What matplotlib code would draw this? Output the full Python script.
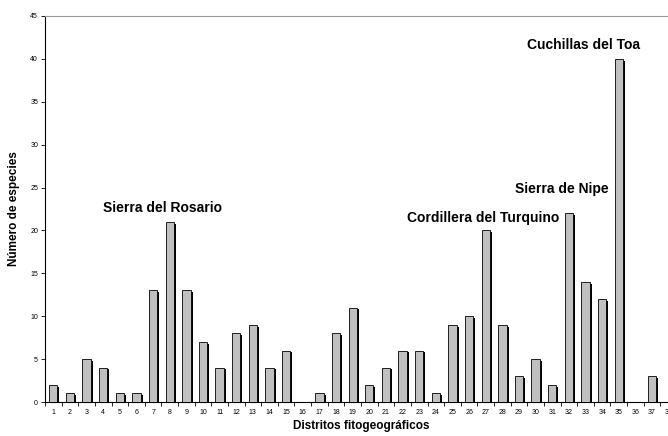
import numpy as np
import matplotlib
matplotlib.use("Agg")
import matplotlib.pyplot as plt

plt.rcParams['font.family'] = ['Liberation Sans', 'DejaVu Sans']

distritos = list(range(1, 39))
especies = [2, 1, 5, 4, 1, 1, 13, 21, 13, 7, 4, 8, 9, 4, 6, 0, 1, 8, 11, 2,
            4, 6, 6, 1, 9, 10, 20, 9, 3, 5, 2, 22, 14, 12, 40, 0, 3, 0]
etiquetas = ["Sierra del Rosario", "Cordillera del Turquino", "Sierra de Nipe", "Cuchillas del Toa"]
etiqueta_x = [7.55, 26.85, 31.6, 32.85]
etiqueta_y = [22.6, 21.4, 24.8, 41.6]

fig = plt.figure(figsize=(6.68, 4.36), dpi=100)
ax = fig.add_axes([45 / 668, 34 / 436, 632 / 668, 386 / 436])

x = np.array(distritos)
y = np.array(especies)
# sombra negra a la derecha de cada barra
ax.bar(x + 0.12, np.clip(y - 0.2, 0, None), width=0.5, color='black', zorder=2)
ax.bar(x, y, width=0.5, color='#c0c0c0', edgecolor='black', linewidth=0.6, zorder=3)

for t, tx, ty in zip(etiquetas, etiqueta_x, etiqueta_y):
    ax.text(tx, ty, t, ha='center', va='center', fontsize=10, fontweight='bold')

ax.set_xlim(0.5, 38.5)
ax.set_ylim(0, 45)
ax.set_yticks(range(0, 46, 5))
ax.set_xticks(distritos)
ax.set_xticks(np.arange(0.5, 39, 1), minor=True)
ax.tick_params(axis='x', which='major', length=0, labelsize=5, pad=5)
ax.tick_params(axis='x', which='minor', length=3, width=0.6, direction='out')
ax.tick_params(axis='y', labelsize=5, length=3, width=0.6, pad=2)

ax.spines['right'].set_visible(False)
ax.spines['top'].set_color('#999999')
ax.spines['left'].set_linewidth(0.8)
ax.spines['bottom'].set_linewidth(0.8)

ax.set_xlabel('Distritos fitogeográficos', fontsize=8.5, fontweight='bold', labelpad=3)
ax.set_ylabel('Número de especies', fontsize=8.5, fontweight='bold', labelpad=7)

fig.savefig('out.png', dpi=100)
